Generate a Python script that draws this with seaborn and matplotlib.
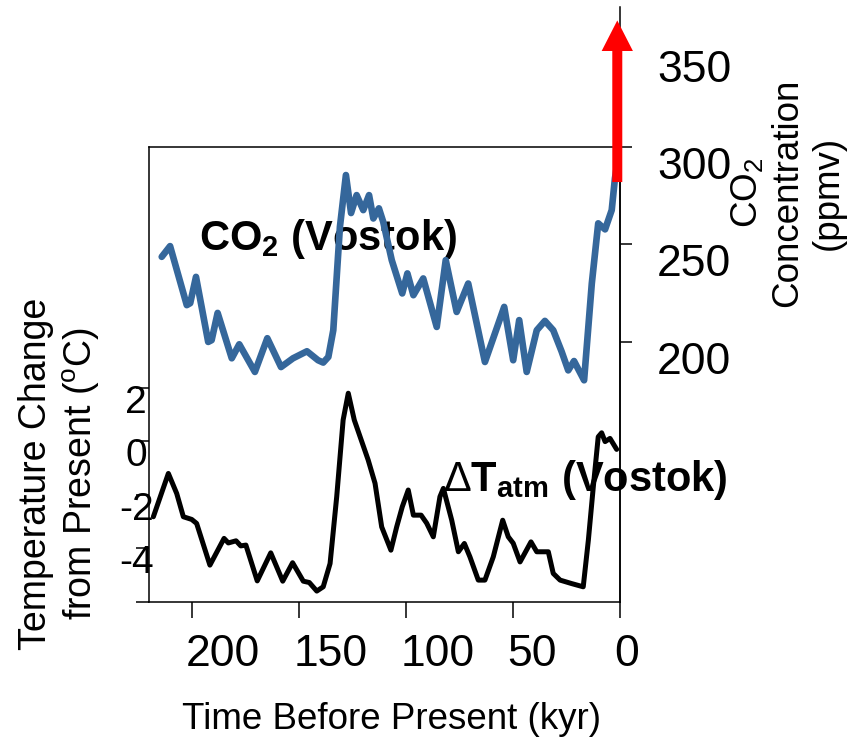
import numpy as np
import pandas as pd
import matplotlib
matplotlib.use('Agg')
import matplotlib.pyplot as plt
import seaborn as sns
from matplotlib.transforms import ScaledTranslation

# ---------------- data ----------------
co2_age = [214.2, 210.3, 202.5, 200.9, 198.2, 192.5, 190.9, 188.1, 181.5, 178.0,
           170.7, 164.9, 158.5, 152.9, 146.4, 141.2, 138.8, 136.4, 134.1, 131.0,
           128.2, 125.8, 123.2, 120.1, 117.4, 115.4, 112.8, 110.8, 106.8, 101.9,
           99.5, 96.7, 92.1, 85.8, 81.6, 76.5, 71.1, 63.3, 54.3, 50.1,
           47.3, 43.8, 39.1, 35.3, 31.4, 27.5, 24.4, 21.7, 17.0, 13.4,
           10.4, 7.2, 4.1, 2.6, 1.6]
co2_ppm = [243.6, 249.1, 218.8, 219.8, 233.3, 199.9, 200.8, 214.8, 191.5, 198.7,
           184.5, 201.8, 187.0, 191.5, 195.1, 190.5, 189.3, 192.2, 205.9, 259.0,
           285.6, 266.1, 275.3, 267.6, 275.3, 263.3, 268.5, 261.6, 241.9, 224.8,
           235.1, 223.9, 232.5, 207.6, 241.9, 215.3, 229.9, 189.6, 217.9, 190.5,
           211.1, 184.5, 205.9, 210.7, 205.9, 195.0, 185.3, 190.1, 180.2, 229.9,
           260.8, 257.7, 267.6, 283.9, 290.7]

temp_age = [218.1, 211.1, 207.2, 204.1, 200.2, 197.9, 191.7, 185.1, 183.1, 179.5,
            177.3, 174.9, 169.6, 163.3, 157.7, 153.1, 148.1, 145.3, 141.8, 138.8,
            135.6, 132.5, 129.5, 127.1, 124.3, 117.8, 114.6, 111.5, 107.2, 104.5,
            101.9, 99.1, 96.7, 93.1, 90.5, 87.4, 84.3, 82.7, 78.8, 75.7,
            72.9, 70.3, 66.4, 63.3, 59.4, 55.0, 52.4, 50.1, 46.9, 41.8,
            39.1, 33.7, 31.4, 28.2, 22.8, 17.4, 15.0, 12.7, 10.4, 8.8,
            7.2, 4.9, 1.8]
temp_val = [-2.83, -1.21, -1.96, -2.83, -2.93, -3.08, -4.64, -3.64, -3.81, -3.73,
            -3.92, -3.89, -5.23, -4.18, -5.24, -4.55, -5.24, -5.29, -5.61, -5.45,
            -4.58, -2.08, 0.79, 1.79, 0.79, -0.71, -1.58, -3.21, -4.08, -3.21,
            -2.46, -1.83, -2.77, -2.77, -3.07, -3.58, -2.08, -1.77, -2.96, -4.14,
            -3.83, -4.33, -5.20, -5.20, -4.33, -2.96, -3.58, -3.82, -4.52, -3.77,
            -4.14, -4.14, -4.95, -5.20, -5.33, -5.45, -3.70, -1.71, 0.16, 0.31,
            -0.02, 0.10, -0.31]

x_ticks = [200, 150, 100, 50, 0]
x_ticklabels = ['200', '150', '100', '50', '0']
temp_ticks = [-6, -4, -2, 0, 2]
temp_ticklabels = ['', '-4', '-2', '0', '2']
co2_ticks = [200, 250, 300, 350]
co2_ticklabels = ['200', '250', '300', '350']

arrow_age = 1.5
arrow_ppm_start = 282
arrow_ppm_end = 365

co2_df = pd.DataFrame({'age': co2_age, 'ppm': co2_ppm})
temp_df = pd.DataFrame({'age': temp_age, 'dT': temp_val})

# ---------------- style ----------------
sns.set_style('white')
plt.rcParams['font.family'] = ['Liberation Sans', 'DejaVu Sans']
plt.rcParams['mathtext.fontset'] = 'custom'
plt.rcParams['mathtext.rm'] = 'Liberation Sans'
plt.rcParams['mathtext.bf'] = 'Liberation Sans:bold'
plt.rcParams['mathtext.it'] = 'Liberation Sans:italic'
plt.rcParams['axes.unicode_minus'] = False
plt.rcParams['text.color'] = 'black'
plt.rcParams['axes.labelcolor'] = 'black'
plt.rcParams['xtick.color'] = 'black'
plt.rcParams['ytick.color'] = 'black'

W, H = 854, 744
fig = plt.figure(figsize=(W / 100, H / 100), dpi=100)


def fx(px):
    return px / W


def fy(py):
    return 1 - py / H


L, R, TOP, B = 149.3, 620.5, 147, 601.5
ax = fig.add_axes([fx(L), fy(B), fx(R) - fx(L), fy(TOP) - fy(B)])
ax2 = fig.add_axes([fx(L), fy(B), fx(R) - fx(L), fy(7) - fy(B)])
ax2.patch.set_visible(False)

sns.lineplot(data=temp_df, x='age', y='dT', ax=ax, color='black', lw=3.6,
             solid_joinstyle='round', solid_capstyle='round', zorder=2)
sns.lineplot(data=co2_df, x='age', y='ppm', ax=ax2, color='#35679b', lw=4.8,
             solid_joinstyle='round', solid_capstyle='round', zorder=2)

# temperature axes
ax.set_xlim(220, 0)
ax.set_ylim(-6, 11.0)
ax.set_xlabel('')
ax.set_ylabel('')
for s in ax.spines.values():
    s.set_visible(True)
    s.set_color('black')
    s.set_linewidth(1.1)
ax.set_xticks(x_ticks)
ax.set_xticklabels(x_ticklabels, ha='left')
ax.set_yticks(temp_ticks)
ax.set_yticklabels(temp_ticklabels, ha='center')
ax.tick_params(axis='x', direction='out', length=11.5, width=1.1, pad=12.0,
               labelsize=32, colors='black', bottom=True)
ax.tick_params(axis='y', direction='out', length=9.4, width=1.1, pad=0,
               labelsize=28, colors='black', left=True, right=False)
for t in ax.xaxis.get_major_ticks():
    t.label1.set_transform(t.label1.get_transform() +
                           ScaledTranslation(-6 / 100, 0, fig.dpi_scale_trans))
for t in ax.yaxis.get_major_ticks():
    t.label1.set_transform(t.label1.get_transform() +
                           ScaledTranslation(0, -11 / 100, fig.dpi_scale_trans))

# CO2 axes
ax2.set_xlim(220, 0)
ax2.set_ylim(66.6, 371.9)
ax2.set_xlabel('')
ax2.set_ylabel('')
ax2.set_xticks([])
for k in ['left', 'top', 'bottom']:
    ax2.spines[k].set_visible(False)
ax2.spines['right'].set_visible(True)
ax2.spines['right'].set_color('black')
ax2.spines['right'].set_linewidth(1.1)
ax2.yaxis.set_label_position('right')
ax2.yaxis.tick_right()
ax2.set_yticks(co2_ticks)
ax2.set_yticklabels(co2_ticklabels)
ax2.tick_params(axis='y', direction='out', length=8.6, width=1.1, pad=17.6,
                labelsize=32, colors='black', right=True, left=False)
for t in ax2.yaxis.get_major_ticks():
    t.label2.set_transform(t.label2.get_transform() +
                           ScaledTranslation(0, -16 / 100, fig.dpi_scale_trans))

# red arrow (modern CO2 rise)
ax2.annotate('', xy=(arrow_age, arrow_ppm_end), xytext=(arrow_age, arrow_ppm_start),
             xycoords='data', textcoords='data', annotation_clip=False,
             arrowprops=dict(facecolor='#ff0000', edgecolor='none', width=7.2,
                             headwidth=22.5, headlength=22.0, shrink=0.0,
                             clip_on=False), zorder=5)

# in-plot labels
ax.text(fx(199), fy(250), r'CO$_{\mathbf{2}}$ (Vostok)', transform=fig.transFigure,
        fontsize=30, fontweight='bold', ha='left', va='baseline', zorder=1,
        color='black')
ax.text(fx(443), fy(491), r'$\Delta$T$_{\mathbf{atm}}$ (Vostok)', transform=fig.transFigure,
        fontsize=30, fontweight='bold', ha='left', va='baseline', zorder=1,
        color='black')

# axis titles
fig.text(fx(60), fy(474), 'Temperature Change\nfrom Present ($^{\\mathrm{o}}$C)',
         rotation=90, ha='center', va='center', fontsize=27, multialignment='center',
         color='black')
fig.text(fx(787), fy(193), 'CO$_{\\mathrm{2}}$\nConcentration\n(ppmv)',
         rotation=90, ha='center', va='center', fontsize=26.5, multialignment='center',
         color='black')
fig.text(fx(391.5), fy(729), 'Time Before Present (kyr)', ha='center', va='baseline',
         fontsize=26.5, color='black')

fig.savefig('out.png', dpi=100)
